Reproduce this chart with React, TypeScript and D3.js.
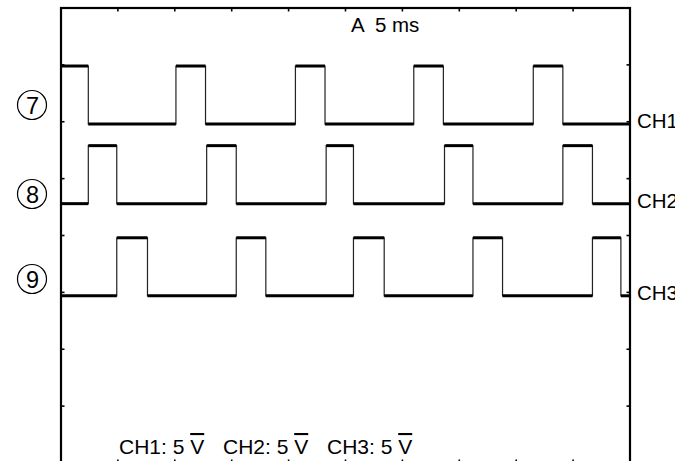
import React, { useEffect, useRef } from 'react';
import * as d3 from 'd3';

// time in ms (5 ms / div, 10 divisions across)
const timeTicks = [0, 5, 10, 15, 20, 25, 30, 35, 40, 45, 50];
// volts (5 V / div, 8 divisions up)
const voltTicks = [0, 5, 10, 15, 20, 25, 30, 35, 40];

const channels = ['CH1', 'CH2', 'CH3'];
const markers = ['7', '8', '9'];
// ground level of each trace on screen, in volts
const channelOffsets = [29.8, 22.8, 14.7];
const amplitude = 5.1;

// high pulses [start, end] in ms
const ch1Pulses = [[0, 2.4], [10.1, 12.7], [20.6, 23.2], [31.0, 33.6], [41.5, 44.1]];
const ch2Pulses = [[2.4, 4.9], [12.8, 15.4], [23.3, 25.7], [33.7, 36.2], [44.1, 46.7]];
const ch3Pulses = [[4.9, 7.6], [15.4, 18.0], [25.7, 28.4], [36.2, 38.8], [46.7, 49.2]];

const scaleLabels = ['CH1: 5 ', 'CH2: 5 ', 'CH3: 5 '];
const timebase = 'A  5 ms';

const FONT = 'Liberation Sans, Arial, sans-serif';

export default function App() {
  const ref = useRef<SVGSVGElement>(null);

  useEffect(() => {
    const svg = d3.select(ref.current);
    svg.selectAll('*').remove();

    const left = 61;
    const right = 630;
    const top = 8;
    const bottom = 463;

    const x = d3.scaleLinear().domain([0, 50]).range([left, right]);
    const y = d3.scaleLinear().domain([0, 40]).range([bottom, top]);

    // screen frame
    svg
      .append('rect')
      .attr('x', left)
      .attr('y', top)
      .attr('width', right - left)
      .attr('height', bottom - top)
      .attr('fill', 'none')
      .attr('stroke', '#000')
      .attr('stroke-width', 2.2);

    const tickLen = 3.5;
    const ticks = svg.append('g').attr('stroke', '#000').attr('stroke-width', 1.6);
    timeTicks.slice(1, -1).forEach(t => {
      ticks.append('line').attr('x1', x(t)).attr('x2', x(t)).attr('y1', top).attr('y2', top + tickLen);
      ticks.append('line').attr('x1', x(t)).attr('x2', x(t)).attr('y1', bottom).attr('y2', bottom - tickLen);
    });
    voltTicks.slice(1, -1).forEach(v => {
      ticks.append('line').attr('x1', left).attr('x2', left + tickLen).attr('y1', y(v)).attr('y2', y(v));
      ticks.append('line').attr('x1', right).attr('x2', right - tickLen).attr('y1', y(v)).attr('y2', y(v));
    });

    // build the square waves
    const pulseSets = [ch1Pulses, ch2Pulses, ch3Pulses];
    pulseSets.forEach((pulses, i) => {
      const low = channelOffsets[i];
      const high = low + amplitude;
      const pts: [number, number][] = [];
      let t = 0;
      pulses.forEach(([s, e]) => {
        if (s > t) {
          pts.push([t, low]);
          pts.push([s, low]);
        }
        pts.push([s, high]);
        pts.push([e, high]);
        pts.push([e, low]);
        t = e;
      });
      if (t < 50) pts.push([50, low]);

      const g = svg.append('g');

      // thin fast edges
      g.append('path')
        .attr('d', d3.line<[number, number]>().x(d => x(d[0])).y(d => y(d[1]))(pts))
        .attr('fill', 'none')
        .attr('stroke', '#222')
        .attr('stroke-width', 1.2);

      // bold flat levels
      for (let k = 0; k + 1 < pts.length; k++) {
        if (pts[k][1] === pts[k + 1][1]) {
          g.append('line')
            .attr('x1', x(pts[k][0]))
            .attr('x2', x(pts[k + 1][0]))
            .attr('y1', y(pts[k][1]))
            .attr('y2', y(pts[k][1]))
            .attr('stroke', '#000')
            .attr('stroke-width', 3);
        }
      }

      // channel name on the right
      svg
        .append('text')
        .attr('x', right + 7)
        .attr('y', y(low) + 4)
        .attr('font-family', FONT)
        .attr('font-size', 20.5)
        .text(channels[i]);
    });

    // circled markers on the left
    const markerY = [105, 194, 279];
    markers.forEach((m, i) => {
      svg
        .append('circle')
        .attr('cx', 32)
        .attr('cy', markerY[i])
        .attr('r', 14.5)
        .attr('fill', 'none')
        .attr('stroke', '#000')
        .attr('stroke-width', 1.2);
      svg
        .append('text')
        .attr('x', 32.5)
        .attr('y', markerY[i] + 8.5)
        .attr('text-anchor', 'middle')
        .attr('font-family', FONT)
        .attr('font-size', 23.5)
        .text(m);
    });

    // timebase
    svg
      .append('text')
      .attr('x', 351)
      .attr('y', 32)
      .attr('font-family', FONT)
      .attr('font-size', 20.5)
      .style('white-space', 'pre')
      .text(timebase);

    // volts/div readout
    scaleLabels.forEach((s, i) => {
      const txt = svg
        .append('text')
        .attr('x', 119 + i * 104)
        .attr('y', 454)
        .attr('font-family', FONT)
        .attr('font-size', 21)
        .style('white-space', 'pre');
      txt.append('tspan').text(s);
      txt.append('tspan').style('text-decoration', 'overline').text('V');
    });
  }, []);

  return (
    <svg
      ref={ref}
      width={675}
      height={461}
      style={{ position: 'absolute', left: 0, top: 0, background: '#fff' }}
    />
  );
}
